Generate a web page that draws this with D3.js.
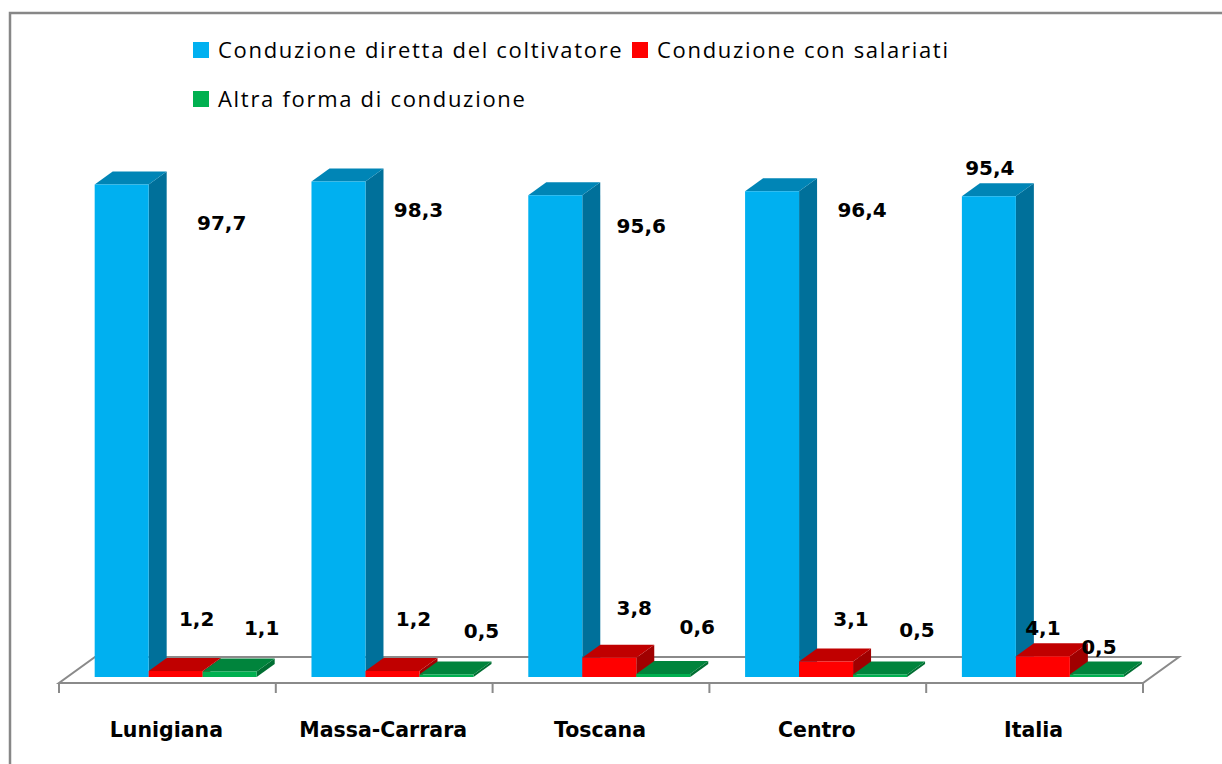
<!DOCTYPE html>
<html>
<head>
<meta charset="utf-8">
<script src="https://cdn.jsdelivr.net/npm/d3@7/dist/d3.min.js"></script>
<style>
  html, body { margin: 0; padding: 0; background: #ffffff; }
  svg { display: block; }
</style>
</head>
<body>
<svg id="chart" width="1222" height="764"></svg>
<script>
// ---- data ----
const categories = ["Lunigiana", "Massa-Carrara", "Toscana", "Centro", "Italia"];
const seriesNames = ["Conduzione diretta del coltivatore", "Conduzione con salariati", "Altra forma di conduzione"];
const diretta = [97.7, 98.3, 95.6, 96.4, 95.4];
const salariati = [1.2, 1.2, 3.8, 3.1, 4.1];
const altra = [1.1, 0.5, 0.6, 0.5, 0.5];
const labels = [
  ["97,7", "98,3", "95,6", "96,4", "95,4"],
  ["1,2", "1,2", "3,8", "3,1", "4,1"],
  ["1,1", "0,5", "0,6", "0,5", "0,5"]
];

// ---- layout / style ----
const colors = [
  { front: "#00B0F0", top: "#0085B6", side: "#00709A" },
  { front: "#FF0000", top: "#C00000", side: "#A00000" },
  { front: "#00B050", top: "#00843C", side: "#006E32" }
];
// label offsets relative to bar top-front centre (Excel label placement)
const labelOffsets = [
  [[100, 40], [80, 30], [86, 32], [90, 20], [1, -27]],
  [[21, -50], [21, -50], [25, -48], [25, -41], [0, -27]],
  [[32, -42], [35, -42], [34, -45], [37, -43], [2, -26]]
];

const svg = d3.select("#chart");
const floorY = 683, x0 = 59, x1 = 1143;
const DX = 36, DY = -26;        // full floor depth
const zFront = 0.23, zBack = 0.73; // bar depth range

const px = (x, z) => x + DX * z;
const py = (y, z) => y + DY * z;

const xScale = d3.scaleBand().domain(categories).range([x0, x1])
  .paddingInner(0.2528).paddingOuter(0.1264);
const sScale = d3.scaleBand().domain(d3.range(3)).range([0, xScale.bandwidth()]);
const hScale = d3.scaleLinear().domain([0, 100]).range([0, 504]);

const values = [diretta, salariati, altra];

// frame
svg.append("rect").attr("x", 10).attr("y", 13).attr("width", 1300).attr("height", 900)
  .attr("fill", "none").attr("stroke", "#878787").attr("stroke-width", 2.5);

// floor
const floorPts = [[px(x0,0), py(floorY,0)], [px(x1,0), py(floorY,0)], [px(x1,1), py(floorY,1)], [px(x0,1), py(floorY,1)]];
svg.append("polygon").attr("points", floorPts.map(p => p.join(",")).join(" "))
  .attr("fill", "#ffffff").attr("stroke", "#8a8a8a").attr("stroke-width", 2);

// ticks
const tickXs = categories.map(c => xScale(c) - xScale.step() * xScale.paddingInner() / 2);
tickXs.push(x1);
svg.selectAll("line.tick").data(tickXs).enter().append("line")
  .attr("x1", d => d).attr("x2", d => d).attr("y1", floorY).attr("y2", floorY + 10)
  .attr("stroke", "#8a8a8a").attr("stroke-width", 2);

// bars
const bars = [];
categories.forEach((c, ci) => {
  for (let si = 0; si < 3; si++) {
    bars.push({ c, ci, si, v: values[si][ci] });
  }
});

const barG = svg.append("g");
bars.forEach(b => {
  const xl = xScale(b.c) + sScale(b.si);
  const xr = xl + sScale.bandwidth();
  const yb = floorY;
  const yt = floorY - hScale(b.v);
  const col = colors[b.si];
  const P = (x, y, z) => [px(x, z), py(y, z)].join(",");
  const g = barG.append("g");
  g.append("polygon").attr("points", [P(xr, yb, zFront), P(xr, yb, zBack), P(xr, yt, zBack), P(xr, yt, zFront)].join(" "))
    .attr("fill", col.side);
  g.append("polygon").attr("points", [P(xl, yt, zFront), P(xr, yt, zFront), P(xr, yt, zBack), P(xl, yt, zBack)].join(" "))
    .attr("fill", col.top);
  g.append("polygon").attr("points", [P(xl, yb, zFront), P(xr, yb, zFront), P(xr, yt, zFront), P(xl, yt, zFront)].join(" "))
    .attr("fill", col.front);
});

// data labels
const lblG = svg.append("g");
bars.forEach(b => {
  const xc = px(xScale(b.c) + sScale(b.si) + sScale.bandwidth() / 2, zFront);
  const yt = py(floorY - hScale(b.v), zFront);
  const off = labelOffsets[b.si][b.ci];
  lblG.append("text")
    .attr("x", xc + off[0]).attr("y", yt + off[1])
    .attr("text-anchor", "middle").attr("dominant-baseline", "middle")
    .attr("font-family", "DejaVu Sans").attr("font-weight", "bold").attr("font-size", 20)
    .attr("fill", "#000").text(labels[b.si][b.ci]);
});

// category labels
svg.selectAll("text.cat").data(categories).enter().append("text")
  .attr("x", d => xScale(d) + xScale.bandwidth() / 2 - 1)
  .attr("y", 737)
  .attr("text-anchor", "middle")
  .attr("font-family", "DejaVu Sans").attr("font-weight", "bold").attr("font-size", 20.5)
  .attr("fill", "#000").text(d => d);

// legend
const legendItems = [
  { name: seriesNames[0], color: colors[0].front, x: 193, y: 42 },
  { name: seriesNames[1], color: colors[1].front, x: 632, y: 42 },
  { name: seriesNames[2], color: colors[2].front, x: 193, y: 91 }
];
const lg = svg.append("g");
legendItems.forEach(it => {
  lg.append("rect").attr("x", it.x).attr("y", it.y).attr("width", 16).attr("height", 16).attr("fill", it.color);
  lg.append("text").attr("x", it.x + 25).attr("y", it.y + 16)
    .attr("font-family", "Open Sans").attr("font-size", 22).attr("letter-spacing", 1.7)
    .attr("fill", "#000").text(it.name);
});
</script>
</body>
</html>
